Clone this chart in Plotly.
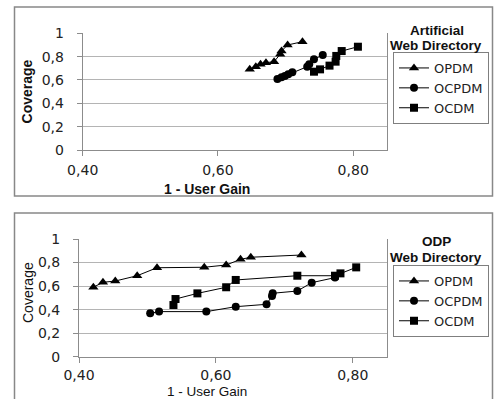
import plotly.graph_objects as go

# ---------------- Data ----------------
series_names = ["OPDM", "OCPDM", "OCDM"]

# Artificial Web Directory (top chart)
art_opdm_x = [0.647, 0.656, 0.663, 0.671, 0.683, 0.692, 0.694, 0.703, 0.725]
art_opdm_y = [0.691, 0.714, 0.734, 0.748, 0.757, 0.820, 0.848, 0.900, 0.928]
art_ocpdm_x = [0.688, 0.694, 0.699, 0.704, 0.710, 0.732, 0.735, 0.742, 0.755]
art_ocpdm_y = [0.608, 0.623, 0.634, 0.649, 0.666, 0.714, 0.734, 0.777, 0.814]
art_ocdm_x = [0.742, 0.751, 0.765, 0.774, 0.775, 0.783, 0.807]
art_ocdm_y = [0.671, 0.691, 0.723, 0.757, 0.806, 0.848, 0.885]

# ODP Web Directory (bottom chart)
odp_opdm_x = [0.421, 0.435, 0.453, 0.485, 0.514, 0.583, 0.615, 0.636, 0.651, 0.725]
odp_opdm_y = [0.590, 0.632, 0.643, 0.688, 0.756, 0.760, 0.779, 0.827, 0.845, 0.864]
odp_ocpdm_x = [0.504, 0.517, 0.586, 0.629, 0.674, 0.682, 0.683, 0.719, 0.740, 0.774]
odp_ocpdm_y = [0.369, 0.383, 0.383, 0.425, 0.445, 0.516, 0.539, 0.558, 0.629, 0.672]
odp_ocdm_x = [0.538, 0.541, 0.573, 0.615, 0.629, 0.719, 0.774, 0.782, 0.805]
odp_ocdm_y = [0.439, 0.490, 0.538, 0.590, 0.652, 0.688, 0.688, 0.708, 0.759]

x_tick_vals = [0.40, 0.60, 0.80]
x_tick_text = ["0,40", "0,60", "0,80"]
y_tick_vals = [0, 0.2, 0.4, 0.6, 0.8, 1]
y_tick_text = ["0", "0,2", "0,4", "0,6", "0,8", "1"]

symbols = ["triangle-up", "circle", "square"]

W, H = 496, 399


def px_x(p):
    return p / W


def px_y(p):
    return 1 - p / H


fig = go.Figure()

top_sets = [(art_opdm_x, art_opdm_y), (art_ocpdm_x, art_ocpdm_y), (art_ocdm_x, art_ocdm_y)]
bot_sets = [(odp_opdm_x, odp_opdm_y), (odp_ocpdm_x, odp_ocpdm_y), (odp_ocdm_x, odp_ocdm_y)]

for name, sym, (xs, ys) in zip(series_names, symbols, top_sets):
    fig.add_trace(go.Scatter(
        x=xs, y=ys, name=name, mode="lines+markers",
        line=dict(color="black", width=1),
        marker=dict(symbol=sym, size=8 if sym != "triangle-up" else 9, color="black"),
        xaxis="x", yaxis="y", legend="legend", cliponaxis=False,
    ))

for name, sym, (xs, ys) in zip(series_names, symbols, bot_sets):
    fig.add_trace(go.Scatter(
        x=xs, y=ys, name=name, mode="lines+markers",
        line=dict(color="black", width=1),
        marker=dict(symbol=sym, size=8 if sym != "triangle-up" else 9, color="black"),
        xaxis="x2", yaxis="y2", legend="legend2", cliponaxis=False,
    ))

tick_font = dict(family="DejaVu Sans", size=14, color="#222222")
axis_line = "#8c8c8c"
grid = "#b4b4b4"

xcommon = dict(range=[0.40, 0.85], tickvals=x_tick_vals, ticktext=x_tick_text,
               showgrid=False, zeroline=False, showline=True, linecolor=axis_line,
               linewidth=1, ticks="outside", ticklen=5, tickcolor=axis_line,
               tickfont=tick_font, fixedrange=True, automargin=False)
ycommon = dict(range=[0, 1], tickvals=y_tick_vals, ticktext=y_tick_text,
               showgrid=True, gridcolor=grid, gridwidth=1, zeroline=False,
               showline=True, linecolor=axis_line, linewidth=1, mirror=True,
               ticks="outside", ticklen=5, tickcolor=axis_line,
               tickfont=tick_font, fixedrange=True, automargin=False,
               ticklabelstandoff=10)

legend_font = dict(family="DejaVu Sans", size=13, color="#222222")

fig.update_layout(
    template="none",
    width=W, height=H, autosize=False,
    margin=dict(l=0, r=0, t=0, b=0, pad=0, autoexpand=False),
    paper_bgcolor="white", plot_bgcolor="white",
    showlegend=True,
    xaxis=dict(domain=[px_x(82.7), px_x(387)], anchor="y", ticklabelstandoff=2, **xcommon),
    yaxis=dict(domain=[px_y(150), px_y(33.3)], anchor="x", **ycommon),
    xaxis2=dict(domain=[px_x(79), px_x(387)], anchor="y2", ticklabelstandoff=0, **xcommon),
    yaxis2=dict(domain=[px_y(356.7), px_y(239)], anchor="x2", **ycommon),
    legend=dict(x=px_x(393), y=px_y(52), xanchor="left", yanchor="top",
                bordercolor="#7f7f7f", borderwidth=1, bgcolor="white",
                font=legend_font, tracegroupgap=0, itemwidth=30),
    legend2=dict(x=px_x(393), y=px_y(265), xanchor="left", yanchor="top",
                 bordercolor="#7f7f7f", borderwidth=1, bgcolor="white",
                 font=legend_font, tracegroupgap=0, itemwidth=30),
    shapes=[
        dict(type="rect", xref="paper", yref="paper",
             x0=px_x(14.5), x1=px_x(492.5), y0=px_y(196), y1=px_y(7),
             line=dict(color="#888888", width=1.5), fillcolor="rgba(0,0,0,0)", layer="below"),
        dict(type="rect", xref="paper", yref="paper",
             x0=px_x(14.5), x1=px_x(492.5), y0=px_y(420), y1=px_y(213),
             line=dict(color="#888888", width=1.5), fillcolor="rgba(0,0,0,0)", layer="below"),
    ],
)

title_font_b = dict(family="Liberation Sans", size=13.5, color="#111111")
anns = [
    dict(text="<b>1 - User Gain</b>", x=px_x(207), y=px_y(189), font=dict(family="Liberation Sans", size=14, color="#111111")),
    dict(text="1 - User Gain", x=px_x(207), y=px_y(391.5),
         font=dict(family="Liberation Sans", size=13.5, color="#111111")),
    dict(text="<b>Coverage</b>", x=px_x(26.7), y=px_y(91.7), textangle=-90,
         font=dict(family="Liberation Sans Narrow, Liberation Sans", size=14, color="#111111")),
    dict(text="Coverage", x=px_x(28), y=px_y(293), textangle=-90,
         font=dict(family="Liberation Sans Narrow, Liberation Sans", size=14, color="#111111")),
    dict(text="<b>Artificial</b>", x=px_x(437), y=px_y(30), font=title_font_b),
    dict(text="<b>Web Directory</b>", x=px_x(436), y=px_y(45.5), font=title_font_b),
    dict(text="<b>ODP</b>", x=px_x(436), y=px_y(241), font=title_font_b),
    dict(text="<b>Web Directory</b>", x=px_x(436), y=px_y(257), font=title_font_b),
]
for a in anns:
    a.update(xref="paper", yref="paper", showarrow=False, xanchor="center", yanchor="middle")
fig.update_layout(annotations=anns)

fig.write_html("out.html", config={"displayModeBar": False})

# remove default page margins so the figure sits at the window origin
with open("out.html", "r", encoding="utf-8") as f:
    html = f.read()
html = html.replace("<head>", "<head><style>html,body{margin:0;padding:0;overflow:hidden;}</style>", 1)
with open("out.html", "w", encoding="utf-8") as f:
    f.write(html)
